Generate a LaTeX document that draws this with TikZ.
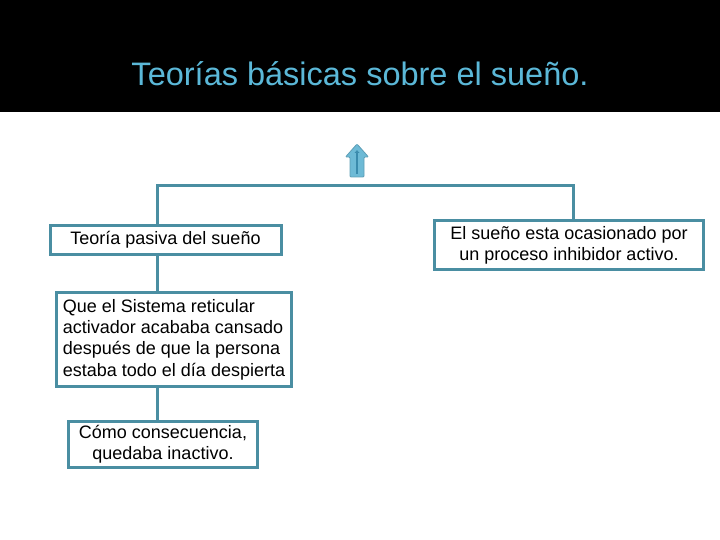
\documentclass[tikz,border=0pt]{standalone}
\usepackage{fontspec}
\usetikzlibrary{arrows.meta}
\setmainfont{Liberation Sans}
\definecolor{boxline}{HTML}{4A8EA2}
\definecolor{titleblue}{HTML}{5BB8D8}
\definecolor{arrowfill}{HTML}{6DBAD6}
\definecolor{arrowdark}{HTML}{3A8BAD}
\tikzset{
  textbox/.style={draw=boxline, line width=3pt, fill=white, inner sep=4pt,
    font=\fontsize{18}{21.3}\selectfont, text=black},
  link/.style={draw=boxline, line width=3pt}
}
\begin{document}
\begin{tikzpicture}[x=1pt,y=-1pt]
  \useasboundingbox (0,0) rectangle (720,540);
  \fill[black] (0,0) rectangle (720,112);
  \node[anchor=base, font=\fontsize{32.5}{38}\selectfont, text=titleblue] (title) at (360,86) {Teorías básicas sobre el sueño.};
  % decorative up arrow
  \filldraw[fill=arrowfill, draw=arrowfill!85!black, line width=0.8pt, rounded corners=1pt]
    (357,144) -- (368.5,157) -- (364,157) -- (364,177) -- (350,177) -- (350,157) -- (345.5,157) -- cycle;
  \draw[arrowdark, line width=2.8pt, -{Latex[length=3pt,width=5.5pt]}] (357,174) -- (357,150);
  % boxes
  \node[textbox, minimum width=231pt, minimum height=28pt] (b1) at (165.5,240) {Teoría pasiva del sueño};
  \node[textbox, minimum width=235pt, minimum height=94pt, align=left] (b2) at (174,339.5)
    {Que el Sistema reticular\\activador acababa cansado\\después de que la persona\\estaba todo el día despierta};
  \node[textbox, minimum width=189pt, minimum height=46pt, align=center] (b3) at (163,444.5)
    {Cómo consecuencia,\\quedaba inactivo.};
  \node[textbox, minimum width=269pt, minimum height=49pt, align=center] (b4) at (569,245)
    {El sueño esta ocasionado por\\un proceso inhibidor activo.};
  % connectors
  \coordinate (jl) at (157,186);
  \coordinate (jr) at (573,186);
  \draw[link] (b1.north -| jl) -- (jl) -- (jr) -- (b4.north -| jr);
  \draw[link] (b1.south -| jl) -- (b2.north -| jl);
  \draw[link] (b2.south -| jl) -- (b3.north -| jl);
\end{tikzpicture}
\end{document}
